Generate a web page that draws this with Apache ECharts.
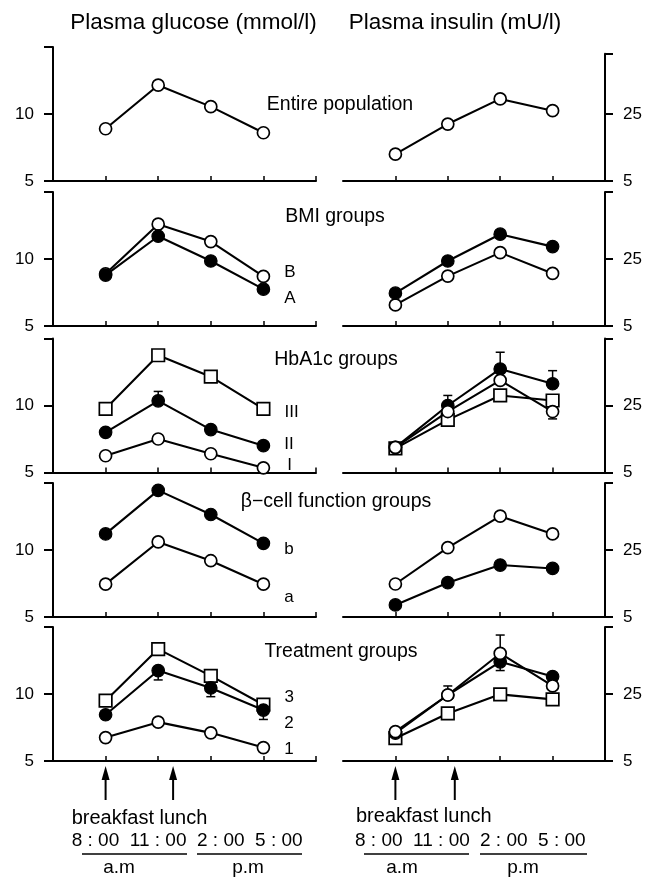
<!DOCTYPE html>
<html><head><meta charset="utf-8">
<script src="https://cdn.jsdelivr.net/npm/echarts@6/dist/echarts.min.js"></script>
<style>html,body{margin:0;padding:0;background:#fff}#c{width:646px;height:877px}</style>
</head><body><div id="c"></div>
<script>
// ---------- DATA ----------
const times = [8, 11, 14, 17];               // clock hours of sampling
const mealTimesLeft = [8, 11.85];            // breakfast, lunch arrows (glucose side)
const mealTimesRight = [8, 11.4];            // breakfast, lunch arrows (insulin side)
const axisTitles = ['Plasma glucose (mmol/l)', 'Plasma insulin (mU/l)'];
const panelTitles = ['Entire population', 'BMI groups', 'HbA1c groups', 'β−cell function groups', 'Treatment groups'];
const glucoseTickLabels = [5, 10];
const insulinTickLabels = [5, 25];
const mealText = 'breakfast lunch';
const clockLabels = ['8 : 00  11 : 00', '2 : 00  5 : 00'];
const periodLabels = ['a.m', 'p.m'];

// Entire population
const entireGlucose = [8.9, 12.15, 10.55, 8.6];
const entireInsulin = [13.0, 22.0, 29.5, 26.0];
// BMI groups
const bmiLabels = ['A', 'B'];
const bmiGlucoseA = [8.8, 11.7, 9.85, 7.75];
const bmiGlucoseB = [8.9, 12.6, 11.3, 8.7];
const bmiInsulinA = [14.8, 24.4, 32.4, 28.7];
const bmiInsulinB = [11.3, 19.9, 26.9, 20.7];
// HbA1c groups
const hbaLabels = ['I', 'II', 'III'];
const hbaGlucoseI = [6.25, 7.5, 6.4, 5.35];
const hbaGlucoseII = [8.0, 10.35, 8.2, 7.0];
const hbaGlucoseIII = [9.75, 13.75, 12.15, 9.75];
const hbaGlucoseIIErr = [null, 11.05, null, null];
const hbaInsulinI = [12.5, 23.2, 32.5, 23.2];
const hbaInsulinII = [12.5, 25.0, 35.9, 31.5];
const hbaInsulinIII = [12.2, 20.7, 28.0, 26.5];
const hbaInsulinIErr = [null, null, null, 21.0];
const hbaInsulinIIErr = [null, 28.0, 40.9, 35.4];
// beta-cell function groups
const betaLabels = ['a', 'b'];
const betaGlucoseA = [7.45, 10.6, 9.2, 7.45];
const betaGlucoseB = [11.2, 14.45, 12.65, 10.5];
const betaInsulinA = [14.85, 25.7, 35.1, 29.8];
const betaInsulinB = [8.6, 15.25, 20.5, 19.5];
// Treatment groups
const treatLabels = ['1', '2', '3'];
const treatGlucose1 = [6.75, 7.9, 7.1, 6.0];
const treatGlucose2 = [8.45, 11.75, 10.45, 8.8];
const treatGlucose3 = [9.5, 13.35, 11.35, 9.2];
const treatGlucose2Err = [null, 11.05, 9.8, 8.1];
const treatInsulin1 = [13.75, 24.7, 37.1, 27.4];
const treatInsulin2 = [13.3, 24.7, 34.6, 30.2];
const treatInsulin3 = [11.8, 19.2, 24.9, 23.4];
const treatInsulin1Err = [null, 27.4, 42.6, null];
const treatInsulin2Err = [null, null, 32.0, null];

// ---------- LAYOUT ----------
const FONT = '"Liberation Sans", Arial, Helvetica, sans-serif';
const panelBottoms = [181, 326, 472.5, 617, 761];
const gluMin = 5, gluMax = 15, insMin = 5;
const pxPerGlu = 13.4, pxPerIns = 3.35;
const leftX = 53, leftW = 263, rightX = 343, rightW = 262;
const tMin = 5, tMax = 20;

const panels = [
  { ty: 104.7, tx: 340, insMax: 43,
    glucose: [{ data: entireGlucose, kind: 'open' }],
    insulin: [{ data: entireInsulin, kind: 'open' }] },
  { ty: 216.7, tx: 335, insMax: 45,
    glucose: [{ data: bmiGlucoseB, kind: 'open', label: bmiLabels[1], dy: -4 },
              { data: bmiGlucoseA, kind: 'filled', label: bmiLabels[0], dy: 9 }],
    insulin: [{ data: bmiInsulinB, kind: 'open' }, { data: bmiInsulinA, kind: 'filled' }] },
  { ty: 360, tx: 336, insMax: 45,
    glucose: [{ data: hbaGlucoseIII, kind: 'square', label: hbaLabels[2], dy: 3 },
              { data: hbaGlucoseII, kind: 'filled', label: hbaLabels[1], dy: -1, err: hbaGlucoseIIErr },
              { data: hbaGlucoseI, kind: 'open', label: hbaLabels[0], dy: -2, dx: 3 }],
    insulin: [{ data: hbaInsulinIII, kind: 'square' },
              { data: hbaInsulinII, kind: 'filled', err: hbaInsulinIIErr },
              { data: hbaInsulinI, kind: 'open', err: hbaInsulinIErr }] },
  { ty: 501.7, tx: 336, insMax: 45,
    glucose: [{ data: betaGlucoseB, kind: 'filled', label: betaLabels[1], dy: 6 },
              { data: betaGlucoseA, kind: 'open', label: betaLabels[0], dy: 13 }],
    insulin: [{ data: betaInsulinB, kind: 'filled' }, { data: betaInsulinA, kind: 'open' }] },
  { ty: 651.7, tx: 341, insMax: 45,
    glucose: [{ data: treatGlucose3, kind: 'square', label: treatLabels[2], dy: -7 },
              { data: treatGlucose2, kind: 'filled', label: treatLabels[1], dy: 13, err: treatGlucose2Err },
              { data: treatGlucose1, kind: 'open', label: treatLabels[0], dy: 2 }],
    insulin: [{ data: treatInsulin3, kind: 'square' },
              { data: treatInsulin2, kind: 'filled', err: treatInsulin2Err },
              { data: treatInsulin1, kind: 'open', err: treatInsulin1Err }] }
];

function symbolStyle(kind) {
  if (kind === 'filled') return { symbol: 'circle', symbolSize: 12.5, itemStyle: { color: '#000', borderColor: '#000', borderWidth: 1.2 } };
  if (kind === 'square') return { symbol: 'rect', symbolSize: 12.5, itemStyle: { color: '#fff', borderColor: '#000', borderWidth: 1.7 } };
  return { symbol: 'circle', symbolSize: 12, itemStyle: { color: '#fff', borderColor: '#000', borderWidth: 1.7 } };
}

function renderErr(params, api) {
  const p0 = api.coord([api.value(0), api.value(1)]);
  const p1 = api.coord([api.value(0), api.value(2)]);
  const st = { stroke: '#000', lineWidth: 1.5 };
  return { type: 'group', children: [
    { type: 'line', shape: { x1: p0[0], y1: p0[1], x2: p1[0], y2: p1[1] }, style: st },
    { type: 'line', shape: { x1: p1[0] - 4.5, y1: p1[1], x2: p1[0] + 4.5, y2: p1[1] }, style: st }
  ] };
}

const grid = [], xAxis = [], yAxis = [], series = [];
const axisLineStyle = { color: '#000', width: 2 };

panels.forEach((p, k) => {
  const bottom = panelBottoms[k];
  const gi = 2 * k, ri = 2 * k + 1;
  grid.push({ left: leftX, top: bottom - (gluMax - gluMin) * pxPerGlu, width: leftW, height: (gluMax - gluMin) * pxPerGlu, outerBoundsMode: 'none', containLabel: false });
  grid.push({ left: rightX, top: bottom - (p.insMax - insMin) * pxPerIns, width: rightW, height: (p.insMax - insMin) * pxPerIns, outerBoundsMode: 'none', containLabel: false });
  [gi, ri].forEach((g, side) => {
    xAxis.push({ type: 'value', gridIndex: g, min: tMin, max: tMax, position: 'bottom',
      axisLine: { show: true, onZero: false, lineStyle: axisLineStyle },
      axisTick: { show: true, inside: true, length: 5, lineStyle: { color: '#000', width: 1.5 },
                  customValues: side === 0 ? times.concat([tMax]) : times },
      axisLabel: { show: false }, splitLine: { show: false } });
  });
  yAxis.push({ type: 'value', gridIndex: gi, min: gluMin, max: gluMax, position: 'left',
    axisLine: { show: true, onZero: false, lineStyle: axisLineStyle },
    axisTick: { show: true, inside: false, length: 9, lineStyle: { color: '#000', width: 2 }, customValues: [5, 10, 15] },
    axisLabel: { show: true, customValues: glucoseTickLabels, margin: 19, color: '#000', fontSize: 17, fontFamily: FONT },
    splitLine: { show: false } });
  yAxis.push({ type: 'value', gridIndex: ri, min: insMin, max: p.insMax, position: 'right',
    axisLine: { show: true, onZero: false, lineStyle: axisLineStyle },
    axisTick: { show: true, inside: false, length: 8, lineStyle: { color: '#000', width: 2 }, customValues: [5, 25, p.insMax] },
    axisLabel: { show: true, customValues: insulinTickLabels, margin: 18, color: '#000', fontSize: 17, fontFamily: FONT },
    splitLine: { show: false } });

  [['glucose', gi], ['insulin', ri]].forEach(([key, idx]) => {
    p[key].forEach((s, j) => {
      const data = times.map((t, i) => {
        if (i === times.length - 1 && s.label) {
          return { value: [t, s.data[i]], label: { show: true, formatter: s.label, position: 'right',
            distance: 14 + (s.dx || 0), offset: [0, s.dy || 0], color: '#000', fontSize: 17, fontFamily: FONT } };
        }
        return [t, s.data[i]];
      });
      series.push(Object.assign({ type: 'line', xAxisIndex: idx, yAxisIndex: idx, data,
        lineStyle: { color: '#000', width: 2.1 }, z: 3 + j, showSymbol: true, silent: true,
        label: { show: false }, emphasis: { disabled: true } }, symbolStyle(s.kind)));
      if (s.err) {
        const ed = times.map((t, i) => s.err[i] == null ? null : [t, s.data[i], s.err[i]]).filter(d => d);
        series.push({ type: 'custom', xAxisIndex: idx, yAxisIndex: idx, data: ed, renderItem: renderErr, z: 2, silent: true });
      }
    });
  });
});

const chart = echarts.init(document.getElementById('c'), null, { renderer: 'canvas' });
chart.setOption({ animation: false, backgroundColor: '#fff', grid, xAxis, yAxis, series });

// ---------- ANNOTATIONS ----------
function txt(text, x, y, size, align) {
  return { type: 'text', x: x, y: y, silent: true,
    style: { text: text, fill: '#000', font: size + 'px ' + FONT, textAlign: align || 'left', textVerticalAlign: 'middle', align: align || 'left', verticalAlign: 'middle' } };
}
function hline(x1, x2, y) {
  return { type: 'line', silent: true, shape: { x1, y1: y, x2, y2: y }, style: { stroke: '#000', lineWidth: 1.5 } };
}
const graphic = [];
graphic.push(txt(axisTitles[0], 193.5, 23, 22.5, 'center'));
graphic.push(txt(axisTitles[1], 455, 23, 22.5, 'center'));
panels.forEach((p, k) => graphic.push(txt(panelTitles[k], p.tx, p.ty, 19.5, 'center')));

const lastLeft = 2 * (panels.length - 1), lastRight = lastLeft + 1;
function arrows(xIdx, meals) {
  meals.forEach(m => {
    const x = chart.convertToPixel({ xAxisIndex: xIdx }, m);
    graphic.push({ type: 'polygon', silent: true, shape: { points: [[x, 766], [x - 4, 780], [x + 4, 780]] }, style: { fill: '#000' } });
    graphic.push({ type: 'line', silent: true, shape: { x1: x, y1: 778, x2: x, y2: 800 }, style: { stroke: '#000', lineWidth: 2 } });
  });
}
arrows(lastLeft, mealTimesLeft);
arrows(lastRight, mealTimesRight);

// left bottom text block
graphic.push(txt(mealText, 71.7, 818, 20));
graphic.push(txt(clockLabels[0], 71.7, 840.5, 19));
graphic.push(txt(clockLabels[1], 197, 840.5, 19));
graphic.push(hline(82, 187, 854));
graphic.push(hline(197, 302, 854));
graphic.push(txt(periodLabels[0], 119, 868, 19, 'center'));
graphic.push(txt(periodLabels[1], 248, 868, 19, 'center'));
// right bottom text block
graphic.push(txt(mealText, 356, 816.5, 20));
graphic.push(txt(clockLabels[0], 355, 840.5, 19));
graphic.push(txt(clockLabels[1], 480, 840.5, 19));
graphic.push(hline(364, 469, 854));
graphic.push(hline(480, 587, 854));
graphic.push(txt(periodLabels[0], 402, 868, 19, 'center'));
graphic.push(txt(periodLabels[1], 523, 868, 19, 'center'));

chart.setOption({ graphic: graphic });
</script>
</body></html>
